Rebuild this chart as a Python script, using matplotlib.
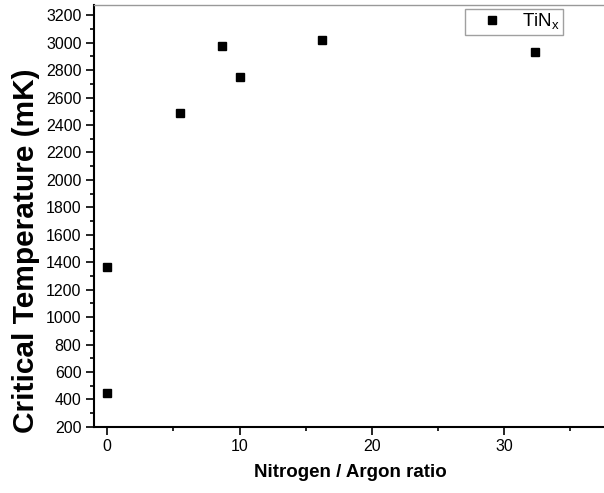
import numpy as np
import matplotlib.pyplot as plt
from matplotlib.ticker import MultipleLocator

plt.rcParams['font.family'] = ['Liberation Sans', 'DejaVu Sans']

ratio = [0, 0, 5.5, 8.65, 10.0, 16.2, 32.3]
tc = [450, 1365, 2490, 2975, 2750, 3020, 2935]

fig = plt.figure(figsize=(6.04, 4.93), dpi=100)
ax = fig.add_axes([0.1556, 0.134, 0.85, 0.856])

ax.plot(ratio, tc, 's', color='black', markersize=6, label='TiN$_\\mathregular{x}$')

ax.set_xlim(-1, 37.8)
ax.set_ylim(200, 3275)
ax.xaxis.set_major_locator(MultipleLocator(10))
ax.xaxis.set_minor_locator(MultipleLocator(5))
ax.yaxis.set_major_locator(MultipleLocator(200))
ax.yaxis.set_minor_locator(MultipleLocator(100))
ax.tick_params(which='major', direction='out', length=6, width=1.2, labelsize=11.5, pad=3)
ax.tick_params(which='minor', direction='out', length=3, width=1.2)

ax.spines['right'].set_visible(False)
ax.spines['top'].set_color('#999999')
ax.spines['top'].set_linewidth(1.0)
ax.spines['left'].set_linewidth(1.5)
ax.spines['bottom'].set_linewidth(1.5)

ax.set_xlabel('Nitrogen / Argon ratio', fontsize=13.5, fontweight='bold', labelpad=7)
ax.set_ylabel('Critical Temperature (mK)', fontsize=21.5, fontweight='bold', labelpad=3)
ax.yaxis.set_label_coords(-0.106, 0.417)

leg = ax.legend(loc='upper right', bbox_to_anchor=(0.913, 0.99), fontsize=13.5,
                fancybox=False, handletextpad=0.3, borderpad=0.15, handlelength=2.6,
                borderaxespad=0.0)
leg.get_frame().set_edgecolor('#888888')
leg.get_frame().set_linewidth(1.0)

fig.savefig('out.png', dpi=100)
